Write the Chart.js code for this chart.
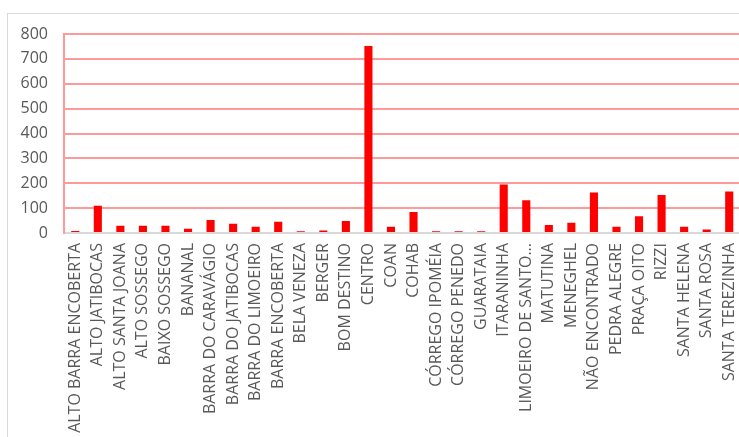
<!DOCTYPE html>
<html>
<head>
<meta charset="utf-8">
<script src="https://cdn.jsdelivr.net/npm/chart.js@4"></script>
<style>
  html, body { margin: 0; padding: 0; background: #fff; overflow: hidden; }
  #frame { position: absolute; left: 7px; top: 13px; width: 800px; height: 500px; border: 1px solid #d9d9d9; box-sizing: border-box; }
  #chart { position: absolute; left: 0; top: 0; }
</style>
</head>
<body>
<div id="frame"></div>
<canvas id="chart" width="745" height="437"></canvas>
<script>
// bairros
const labels = [
  "ALTO BARRA ENCOBERTA", "ALTO JATIBOCAS", "ALTO SANTA JOANA", "ALTO SOSSEGO", "BAIXO SOSSEGO",
  "BANANAL", "BARRA DO CARAVÁGIO", "BARRA DO JATIBOCAS", "BARRA DO LIMOEIRO", "BARRA ENCOBERTA",
  "BELA VENEZA", "BERGER", "BOM DESTINO", "CENTRO", "COAN",
  "COHAB", "CÓRREGO IPOMÉIA", "CÓRREGO PENEDO", "GUARATAIA", "ITARANINHA",
  "LIMOEIRO DE SANTO...", "MATUTINA", "MENEGHEL", "NÃO ENCONTRADO", "PEDRA ALEGRE",
  "PRAÇA OITO", "RIZZI", "SANTA HELENA", "SANTA ROSA", "SANTA TEREZINHA"
];
const values = [
  8, 110, 29, 29, 29,
  17, 52, 37, 25, 45,
  7, 10, 48, 752, 25,
  84, 7, 7, 7, 195,
  132, 32, 41, 163, 25,
  67, 153, 25, 14, 167
];
const yTicks = [0, 100, 200, 300, 400, 500, 600, 700, 800];

const gridRed = '#ff9a9a';

new Chart(document.getElementById("chart"), {
  type: "bar",
  data: {
    labels,
    datasets: [{
      data: values,
      backgroundColor: "#ff0000",
      borderWidth: 0,
      barPercentage: 0.36,
      categoryPercentage: 1
    }]
  },
  options: {
    responsive: false,
    animation: false,
    layout: { padding: { top: 34, left: 0, right: 4.5, bottom: 0 } },
    plugins: { legend: { display: false }, tooltip: { enabled: false } },
    scales: {
      x: {
        grid: { display: false, drawTicks: false },
        border: { color: '#d9d9d9', width: 2 },
        ticks: {
          autoSkip: false,
          minRotation: 90,
          maxRotation: 90,
          padding: 10,
          color: '#595959',
          font: { family: 'Open Sans', size: 16 }
        },
        afterFit: (scale) => {
          scale.height = 437 - 233;
          scale.paddingLeft = 0;
          scale.paddingRight = 0;
        }
      },
      y: {
        min: 0,
        max: 800,
        afterBuildTicks: (scale) => { scale.ticks = yTicks.map(v => ({ value: v })); },
        grid: {
          color: (ctx) => ctx.tick && ctx.tick.value === 0 ? '#d9d9d9' : gridRed,
          lineWidth: 2,
          drawTicks: false
        },
        border: { color: gridRed, width: 2 },
        ticks: {
          padding: 16,
          color: '#595959',
          font: { family: 'Open Sans', size: 16 }
        },
        afterFit: (scale) => {
          scale.width = 64;
          scale.paddingTop = 0;
          scale.paddingBottom = 0;
        }
      }
    }
  }
});
</script>
</body>
</html>
